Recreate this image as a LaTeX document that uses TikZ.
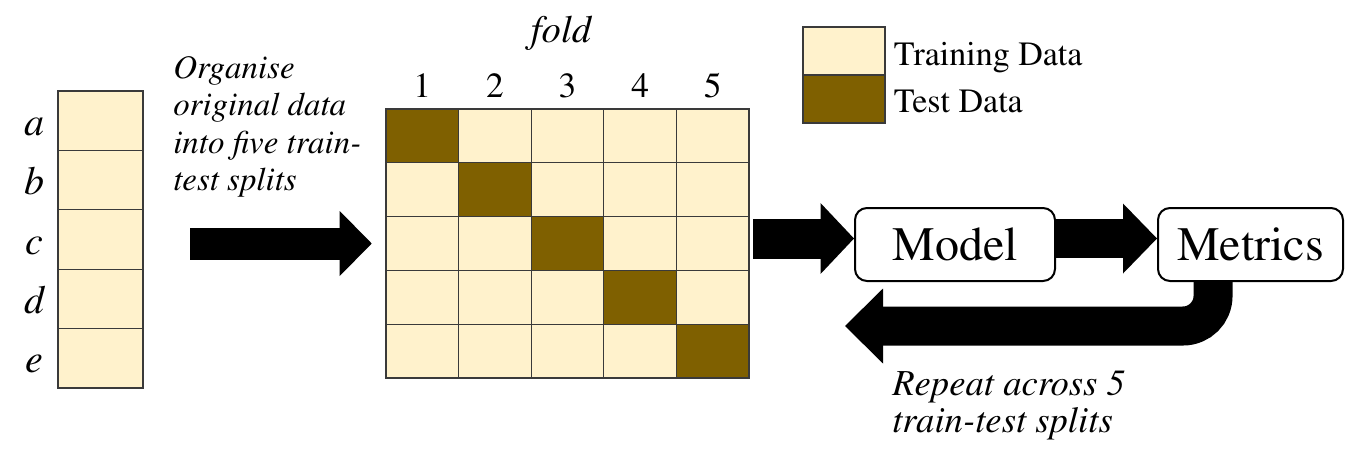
\documentclass[tikz,border=0pt]{standalone}
\usepackage[T1]{fontenc}
\usepackage{mathptmx}
\usetikzlibrary{arrows.meta}
\definecolor{traincol}{HTML}{FFF2CC}
\definecolor{testcol}{HTML}{7F6000}
\definecolor{gridline}{HTML}{3A3A3A}

\begin{document}
\begin{tikzpicture}[x=0.75pt,y=-0.75pt,
    cell/.style={draw=gridline, line width=1pt},
    stage/.style={draw=black, line width=1.5pt, fill=white, rounded corners=9pt,
      minimum height=54.75pt, inner sep=0pt, font=\fontsize{36}{40}\selectfont},
    keytext/.style={inner sep=0pt, font=\fontsize{25.5}{28}\selectfont},
    note/.style={inner sep=0pt, align=left},
    bigarrow/.style n args={3}{line width=#1,
      -{Triangle[length=#2, width=#3, line width=0pt]}},
    ]
    \useasboundingbox (0,0) rectangle (1346,457);

    % original data a..e
    \node (col) [inner sep=0pt, minimum width=63.75pt, minimum height=222.75pt] at (100.5,239.5) {};
    \foreach \r [count=\i from 0] in {a,b,c,d,e} {
        \draw[cell, fill=traincol] (58,{91+59.4*\i}) rectangle (143,{91+59.4*(\i+1)});
        \node[anchor=base, inner sep=0pt, font=\itshape\fontsize{30}{32}\selectfont] (row\r) at (34,{135.2+59.4*\i}) {\r};
    }

    % folds
    \node (grid) [inner sep=0pt, minimum width=272.25pt, minimum height=201.75pt] at (567.5,243.5) {};
    \foreach \i in {0,...,4}
        \foreach \j in {0,...,4}
            \draw[cell, fill=traincol] ({386+72.6*\i},{109+53.8*\j}) rectangle ++(72.6,53.8);
    \foreach \i in {0,...,4}
        \draw[cell, fill=testcol] ({386+72.6*\i},{109+53.8*\i}) rectangle ++(72.6,53.8);
    \foreach \i in {1,...,5}
        \node[anchor=base, inner sep=0pt, font=\fontsize{26.5}{28}\selectfont] (f\i) at ({386+72.6*(\i-0.5)},97) {\i};
    \node[anchor=base, inner sep=0pt, font=\itshape\fontsize{29}{30}\selectfont] (fold) at (561,42) {fold};

    % legend
    \node (trainkey) [cell, fill=traincol, minimum width=61.5pt, minimum height=36pt] at (844,51) {};
    \node (testkey) [cell, fill=testcol, minimum width=61.5pt, minimum height=36pt] at (844,99) {};
    \node[keytext, anchor=base west] (trainlbl) at ([xshift=6pt,yshift=-10.5pt]trainkey.east) {Training Data};
    \node[keytext, anchor=base west] (testlbl) at ([xshift=6pt,yshift=-9.75pt]testkey.east) {Test Data};

    % model and metrics
    \node[stage, minimum width=150pt] (model) at (955,244.5) {Model};
    \node[stage, minimum width=138.75pt] (metrics) at (1250.5,244.5) {Metrics};

    % notes
    \node[note, anchor=north west, font=\itshape\fontsize{24.7}{28.2}\selectfont] (organise) at (173,55.5)
        {Organise\\original data\\into five train-\\test splits};
    \node[note, anchor=north west, font=\itshape\fontsize{27.5}{27.75}\selectfont] (repeat) at (892,370)
        {Repeat across 5\\train-test splits};

    % arrows
    \coordinate (m1) at ([yshift=4.5pt]model.west);
    \coordinate (back) at (845,326);
    \draw[bigarrow={24pt}{24pt}{48.75pt}, shorten <=35.25pt, shorten >=10.5pt] (col.east |- grid.west) -- (grid.west);
    \draw[bigarrow={30pt}{25pt}{53pt}, shorten <=3pt] (grid.east |- m1) -- (m1);
    \draw[bigarrow={29.25pt}{25.5pt}{52.5pt}] ([yshift=4.5pt]model.east) -- ([yshift=4.5pt]metrics.west);
    \draw[bigarrow={29.25pt}{28.5pt}{56.25pt}, rounded corners=22.5pt] ([xshift=-28.1pt]metrics.south) |- (back);
\end{tikzpicture}
\end{document}
